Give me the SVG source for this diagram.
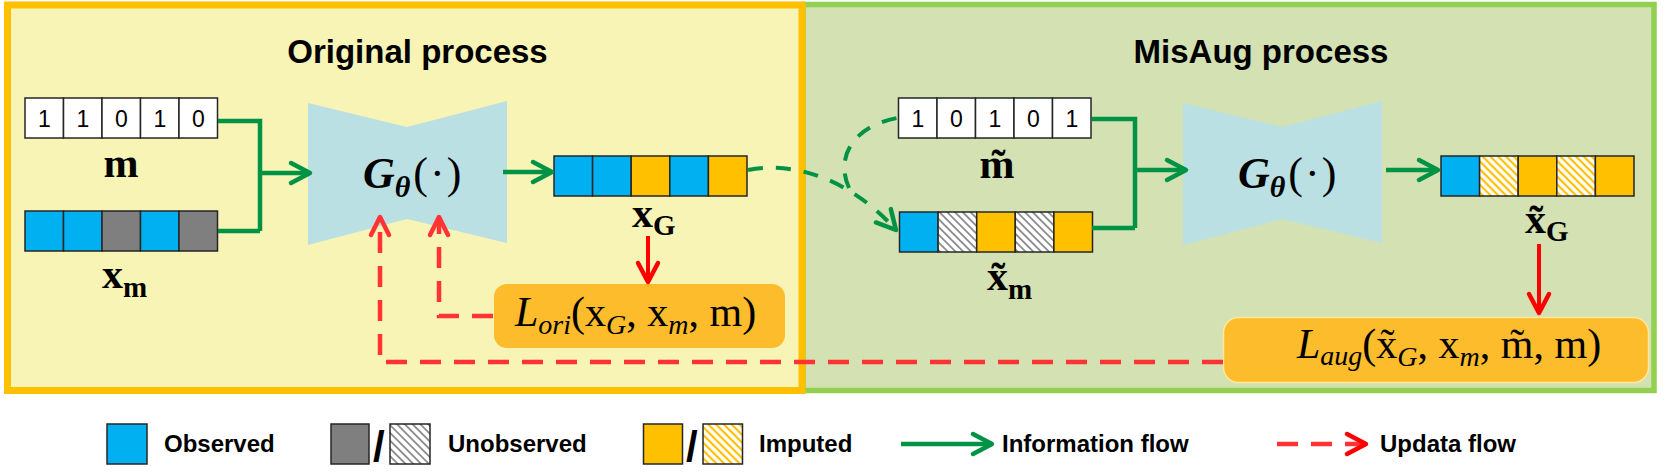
<svg xmlns="http://www.w3.org/2000/svg" width="1677" height="475" viewBox="0 0 1677 475">
<style>
.title{font-family:"Liberation Sans",Arial,sans-serif;font-weight:bold;font-size:33px;fill:#000;text-anchor:middle}
.leg{font-family:"Liberation Sans",Arial,sans-serif;font-weight:bold;font-size:24px;fill:#000}
.slash{font-family:"Liberation Sans",Arial,sans-serif;font-weight:bold;font-size:42px;fill:#000}
.dig{font-family:"Liberation Sans",Arial,sans-serif;font-size:23px;fill:#000;text-anchor:middle}
.cell{stroke:#262626;stroke-width:1.5}
.w{fill:#fff}.b{fill:#00B0F0}.g{fill:#7F7F7F}.o{fill:#FFC000}.hg{fill:url(#hatchG)}.ho{fill:url(#hatchO)}
.vlab{font-family:"Liberation Serif","DejaVu Serif",serif;font-weight:bold;font-size:42px;fill:#000}
.vsub{font-size:29px}
.gen{fill:#BBE0E3}
.gt{font-family:"Liberation Serif","DejaVu Serif",serif;font-size:44px;fill:#000}
.loss{fill:#FCBC2C}
.lt{font-family:"Liberation Serif","DejaVu Serif",serif;font-size:42px;fill:#000}
.ls{font-style:italic;font-size:28px}
.gl{fill:none;stroke:#009245;stroke-width:4.5}
.gd{fill:none;stroke:#009245;stroke-width:4;stroke-dasharray:15 13}
.rl{fill:none;stroke:#FF0000;stroke-width:4}
.rd{fill:none;stroke:#FF3333;stroke-width:4.5;stroke-dasharray:21 13}
</style>
<defs>
<pattern id="hatchG" patternUnits="userSpaceOnUse" width="5.5" height="5.5" patternTransform="rotate(-45)">
<rect width="5.5" height="5.5" fill="#fff"/><line x1="2.75" y1="0" x2="2.75" y2="5.5" stroke="#8C8C8C" stroke-width="1.8"/>
</pattern>
<pattern id="hatchO" patternUnits="userSpaceOnUse" width="5.5" height="5.5" patternTransform="rotate(-45)">
<rect width="5.5" height="5.5" fill="#fff"/><line x1="2.75" y1="0" x2="2.75" y2="5.5" stroke="#FFC000" stroke-width="2.2"/>
</pattern>
<marker id="ag" markerUnits="userSpaceOnUse" markerWidth="30" markerHeight="30" viewBox="-25 -15 30 30" refX="0" refY="0" orient="auto">
<path d="M-19,-10 L0,0 L-19,10" fill="none" stroke="#009245" stroke-width="4.5" stroke-linecap="round" stroke-linejoin="round"/>
</marker>
<marker id="ar" markerUnits="userSpaceOnUse" markerWidth="30" markerHeight="30" viewBox="-25 -15 30 30" refX="0" refY="0" orient="auto">
<path d="M-19,-10 L0,0 L-19,10" fill="none" stroke="#FF0000" stroke-width="4.5" stroke-linecap="round" stroke-linejoin="round"/>
</marker>
<marker id="ard" markerUnits="userSpaceOnUse" markerWidth="30" markerHeight="30" viewBox="-25 -15 30 30" refX="0" refY="0" orient="auto">
<path d="M-18,-9 L0,0 L-18,9" fill="none" stroke="#FF3333" stroke-width="4.5" stroke-linecap="round" stroke-linejoin="round"/>
</marker>
</defs>

<g id="regions">
<rect id="misaug-region" x="803" y="4.5" width="851" height="386" fill="#D3E1B3" stroke="#92D050" stroke-width="5.5"/>
<rect id="original-region" x="7.5" y="5" width="794.5" height="385.5" fill="#F7F4B6" stroke="#FFC000" stroke-width="7"/>
<text class="title" x="417.5" y="63">Original process</text>
<text class="title" x="1261" y="63">MisAug process</text>
</g>

<g id="vec-m">
<rect class="cell w" x="25" y="98" width="38.5" height="40"/><rect class="cell w" x="63.5" y="98" width="38.5" height="40"/><rect class="cell w" x="102" y="98" width="38.5" height="40"/><rect class="cell w" x="140.5" y="98" width="38.5" height="40"/><rect class="cell w" x="179" y="98" width="38.5" height="40"/>
<text class="dig" x="44.3" y="127">1</text><text class="dig" x="82.8" y="127">1</text><text class="dig" x="121.3" y="127">0</text><text class="dig" x="159.8" y="127">1</text><text class="dig" x="198.3" y="127">0</text>
<text class="vlab" x="121" y="177" text-anchor="middle">m</text>
</g>

<g id="vec-xm">
<rect class="cell b" x="25" y="211" width="38.5" height="40"/><rect class="cell b" x="63.5" y="211" width="38.5" height="40"/><rect class="cell g" x="102" y="211" width="38.5" height="40"/><rect class="cell b" x="140.5" y="211" width="38.5" height="40"/><rect class="cell g" x="179" y="211" width="38.5" height="40"/>
<text class="vlab" x="102" y="288">x<tspan class="vsub" dy="9">m</tspan></text>
</g>

<g id="gen1">
<polygon class="gen" points="308,103 407,127 507,101 507,243 407,219 308,245"/>
<text class="gt" x="363" y="188"><tspan font-weight="bold" font-style="italic">G</tspan><tspan font-weight="bold" font-style="italic" font-size="30" dy="9">θ</tspan><tspan dy="-9" dx="3">(</tspan><tspan dx="2">·</tspan><tspan dx="2">)</tspan></text>
</g>

<g id="vec-xG">
<rect class="cell b" x="554" y="156" width="38.6" height="40"/><rect class="cell b" x="592.6" y="156" width="38.6" height="40"/><rect class="cell o" x="631.2" y="156" width="38.6" height="40"/><rect class="cell b" x="669.8" y="156" width="38.6" height="40"/><rect class="cell o" x="708.4" y="156" width="38.6" height="40"/>
<text class="vlab" x="632" y="227">x<tspan class="vsub" dy="8">G</tspan></text>
</g>

<g id="loss-ori">
<rect class="loss" x="494" y="284" width="291" height="64" rx="13"/>
<text class="lt" x="515" y="326"><tspan font-style="italic">L</tspan><tspan class="ls" dy="8">ori</tspan><tspan dy="-8">(x</tspan><tspan class="ls" dy="8">G</tspan><tspan dy="-8">, x</tspan><tspan class="ls" dy="8">m</tspan><tspan dy="-8">, m)</tspan></text>
</g>

<g id="vec-mt">
<rect class="cell w" x="898.5" y="98" width="38.5" height="40"/><rect class="cell w" x="937" y="98" width="38.5" height="40"/><rect class="cell w" x="975.5" y="98" width="38.5" height="40"/><rect class="cell w" x="1014" y="98" width="38.5" height="40"/><rect class="cell w" x="1052.5" y="98" width="38.5" height="40"/>
<text class="dig" x="917.8" y="127">1</text><text class="dig" x="956.3" y="127">0</text><text class="dig" x="994.8" y="127">1</text><text class="dig" x="1033.3" y="127">0</text><text class="dig" x="1071.8" y="127">1</text>
<text class="vlab" x="997" y="178" text-anchor="middle">m̃</text>
</g>

<g id="vec-xmt">
<rect class="cell b" x="899.5" y="212" width="38.6" height="40"/><rect class="cell hg" x="938.1" y="212" width="38.6" height="40"/><rect class="cell o" x="976.7" y="212" width="38.6" height="40"/><rect class="cell hg" x="1015.3" y="212" width="38.6" height="40"/><rect class="cell o" x="1053.9" y="212" width="38.6" height="40"/>
<text class="vlab" x="987" y="290">x̃<tspan class="vsub" dy="9">m</tspan></text>
</g>

<g id="gen2">
<polygon class="gen" points="1183,103 1282,127 1382,101 1382,243 1282,219 1183,245"/>
<text class="gt" x="1238" y="188"><tspan font-weight="bold" font-style="italic">G</tspan><tspan font-weight="bold" font-style="italic" font-size="30" dy="9">θ</tspan><tspan dy="-9" dx="3">(</tspan><tspan dx="2">·</tspan><tspan dx="2">)</tspan></text>
</g>

<g id="vec-xGt">
<rect class="cell b" x="1441" y="156" width="38.6" height="40"/><rect class="cell ho" x="1479.6" y="156" width="38.6" height="40"/><rect class="cell o" x="1518.2" y="156" width="38.6" height="40"/><rect class="cell ho" x="1556.8" y="156" width="38.6" height="40"/><rect class="cell o" x="1595.4" y="156" width="38.6" height="40"/>
<text class="vlab" x="1525" y="233">x̃<tspan class="vsub" dy="8">G</tspan></text>
</g>

<g id="loss-aug">
<rect class="loss" x="1223.5" y="317.5" width="425" height="65" rx="15" stroke="#FFE89A" stroke-width="1.5"/>
<text class="lt" x="1297" y="358"><tspan font-style="italic">L</tspan><tspan class="ls" dy="7">aug</tspan><tspan dy="-7">(x̃</tspan><tspan class="ls" dy="8">G</tspan><tspan dy="-8">, x</tspan><tspan class="ls" dy="8">m</tspan><tspan dy="-8">, m̃, m)</tspan></text>
</g>

<g id="connectors">
<path class="gl" d="M218,121 H260 V231 M218,231 H260"/>
<path class="gl" d="M260,173 H310" marker-end="url(#ag)"/>
<path class="gl" d="M503,172 H552" marker-end="url(#ag)"/>
<path class="gd" d="M748,170 C800,160 855,184 896,230" marker-end="url(#ag)"/>
<path class="gd" d="M849,188 C836,160 850,127 897,118"/>
<path class="gl" d="M1092,119 H1135 V228 M1092,228 H1135"/>
<path class="gl" d="M1135,170 H1186" marker-end="url(#ag)"/>
<path class="gl" d="M1386,170 H1438" marker-end="url(#ag)"/>
<path class="rl" d="M648,236 V282" marker-end="url(#ar)"/>
<path class="rl" d="M1539,244 V313" marker-end="url(#ar)"/>
<path class="rd" d="M1223,362 H380 V217" marker-end="url(#ard)"/>
<path class="rd" d="M493,316 H439 V217" marker-end="url(#ard)"/>
</g>

<g id="legend">
<rect class="cell b" x="107" y="424" width="40" height="40"/>
<text class="leg" x="164" y="452">Observed</text>
<rect class="cell g" x="331" y="424" width="38" height="40"/>
<text class="slash" x="373" y="461">/</text>
<rect class="cell hg" x="390" y="424" width="40" height="40"/>
<text class="leg" x="448" y="452">Unobserved</text>
<rect class="cell o" x="643.5" y="424" width="39" height="40"/>
<text class="slash" x="686" y="461">/</text>
<rect class="cell ho" x="703" y="424" width="39.5" height="40"/>
<text class="leg" x="759" y="452">Imputed</text>
<path class="gl" d="M901,444 H992" marker-end="url(#ag)"/>
<text class="leg" x="1002" y="452">Information flow</text>
<path class="rd" d="M1277,444 H1366" stroke="#FF0000" stroke-dasharray="19 15" marker-end="url(#ar)"/>
<text class="leg" x="1380" y="452">Updata flow</text>
</g>
</svg>
